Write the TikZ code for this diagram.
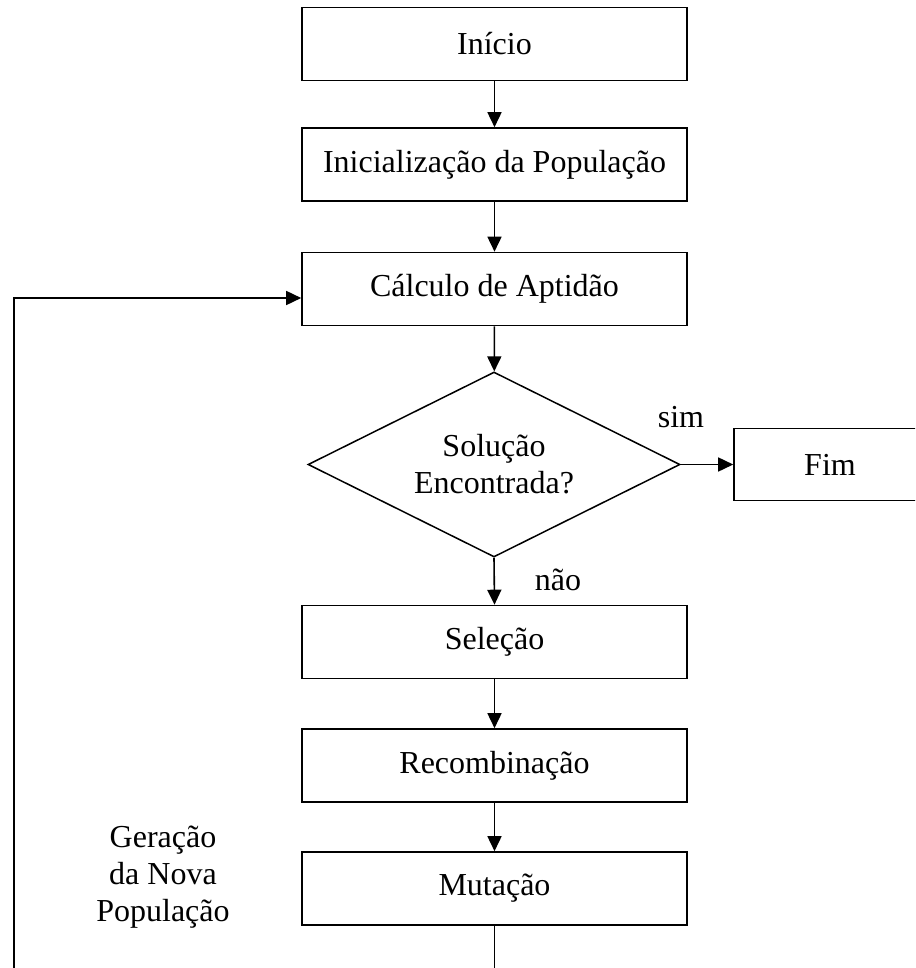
\documentclass[tikz,border=0pt]{standalone}
\usepackage{fontspec}
\setmainfont{Liberation Serif}
\usetikzlibrary{shapes.geometric, arrows.meta, calc}
\begin{document}
\begin{tikzpicture}[x=1pt, y=-1pt,
  every node/.style={font=\fontsize{32}{37}\selectfont},
  stepbox/.style={draw, line width=1.6pt, minimum width=385pt, minimum height=73pt, inner sep=0pt},
  endbox/.style={draw, line width=1.6pt, minimum width=192pt, minimum height=72pt, inner sep=0pt},
  decision/.style={draw, diamond, line width=1.5pt, minimum width=372pt, minimum height=185pt,
    inner sep=0pt, aspect=2, align=center},
  flow/.style={line width=1.6pt, -{Triangle[length=15pt, width=14pt]}},
  tag/.style={inner sep=0pt, align=center}
]
\fill[white] (0,0) rectangle (915,968);
\clip (0,0) rectangle (915,968);

% main column
\node[stepbox] (inicio) at (494.5,44)    {Início};
\node[stepbox] (init)   at (494.5,164.5) {Inicialização da População};
\node[stepbox] (calc)   at (494.5,289)   {Cálculo de Aptidão};
\node[decision] (sol)   at (494,464.5)   {Solução\\Encontrada?};
\node[endbox] (fim)     at (830,464.5)   {Fim};
\node[stepbox] (sel)    at (494.5,642)   {Seleção};
\node[stepbox] (rec)    at (494.5,765.5) {Recombinação};
\node[stepbox] (mut)    at (494.5,888.5) {Mutação};

% labels
\node[tag] (sim) at (681,417) {sim};
\node[tag] (nao) at (558,580) {não};
\node[tag] (ger) at (163,877) {Geração\\da Nova\\População};

% connectors
\draw[flow] (inicio) -- (init);
\draw[flow] (init) -- (calc);
\draw[flow] (calc) -- (sol);
\draw[flow] (sol.east) -- (fim.west);
\draw[flow] (sol.south) -- (sel.north);
\draw[flow] (sel) -- (rec);
\draw[flow] (rec) -- (mut);

% feedback loop to the fitness step
\coordinate (lb) at (14,990);
\coordinate (ce) at ($(calc.west)+(0,9)$);
\draw[flow] (mut.south) -- (mut.south |- lb) -- (lb) |- (ce);
\end{tikzpicture}
\end{document}
